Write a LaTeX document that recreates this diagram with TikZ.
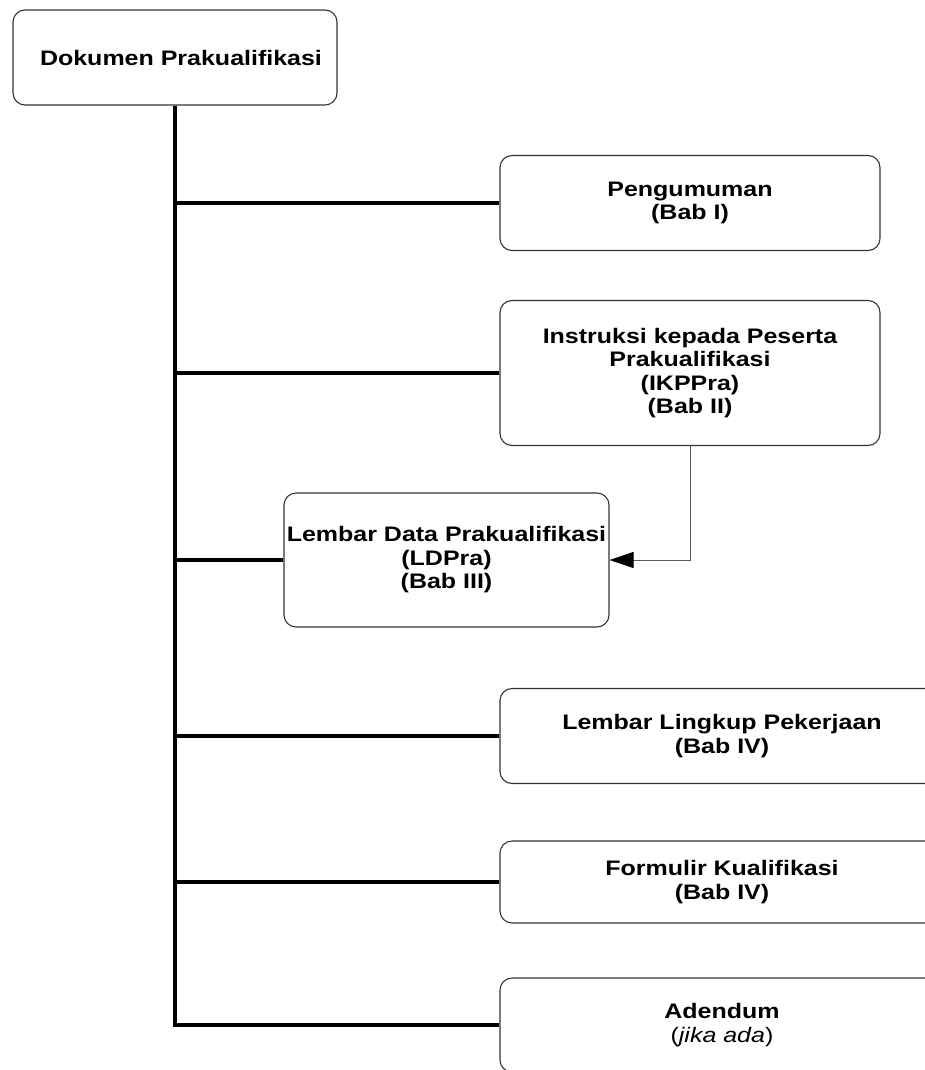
\documentclass[tikz,border=0pt]{standalone}
\usepackage{fontspec}
\setmainfont{Liberation Sans}[FakeStretch=1.19]
\usetikzlibrary{arrows.meta}
\tikzset{
  box/.style={draw=black!80, line width=1.1pt, rounded corners=12pt, inner sep=0pt,
    align=center, font=\fontsize{21}{23.5}\selectfont\bfseries},
  trunkline/.style={line width=3.5pt, black},
  link/.style={draw=black!65, line width=1pt, -{Triangle[length=24pt,width=16pt,color=black]}}
}
\begin{document}
\begin{tikzpicture}[x=1pt,y=-1pt]
\useasboundingbox (0,0) rectangle (925,1070);
\clip (0,0) rectangle (925,1070);
\node[box, minimum width=324pt, minimum height=95pt] (top) at (175,57.5) {\hspace*{12pt}Dokumen Prakualifikasi};
\node[box, minimum width=380pt, minimum height=95pt] (pen) at (690,203) {Pengumuman\\(Bab I)};
\node[box, minimum width=380pt, minimum height=145pt] (ins) at (690,373) {Instruksi kepada Peserta\\Prakualifikasi\\(IKPPra)\\(Bab II)};
\node[box, minimum width=325pt, minimum height=134pt] (ld) at (446.5,560) {Lembar Data Prakualifikasi\\(LDPra)\\(Bab III)};
\node[box, minimum width=444pt, minimum height=95pt] (lk) at (722,736) {Lembar Lingkup Pekerjaan\\(Bab IV)};
\node[box, minimum width=444pt, minimum height=82pt] (fk) at (722,882) {Formulir Kualifikasi\\(Bab IV)};
\node[box, minimum width=444pt, minimum height=94pt] (ad) at (722,1025) {Adendum\\{\mdseries(\textit{jika ada})}};
\draw[trunkline] (top.south) -- (top.south |- ad.west) -- (ad.west);
\draw[trunkline] (top.south |- pen.west) -- (pen.west);
\draw[trunkline] (top.south |- ins.west) -- (ins.west);
\draw[trunkline] (top.south |- ld.west) -- (ld.west);
\draw[trunkline] (top.south |- lk.west) -- (lk.west);
\draw[trunkline] (top.south |- fk.west) -- (fk.west);
\draw[link] (ins.south) |- (ld.east);
\end{tikzpicture}
\end{document}
